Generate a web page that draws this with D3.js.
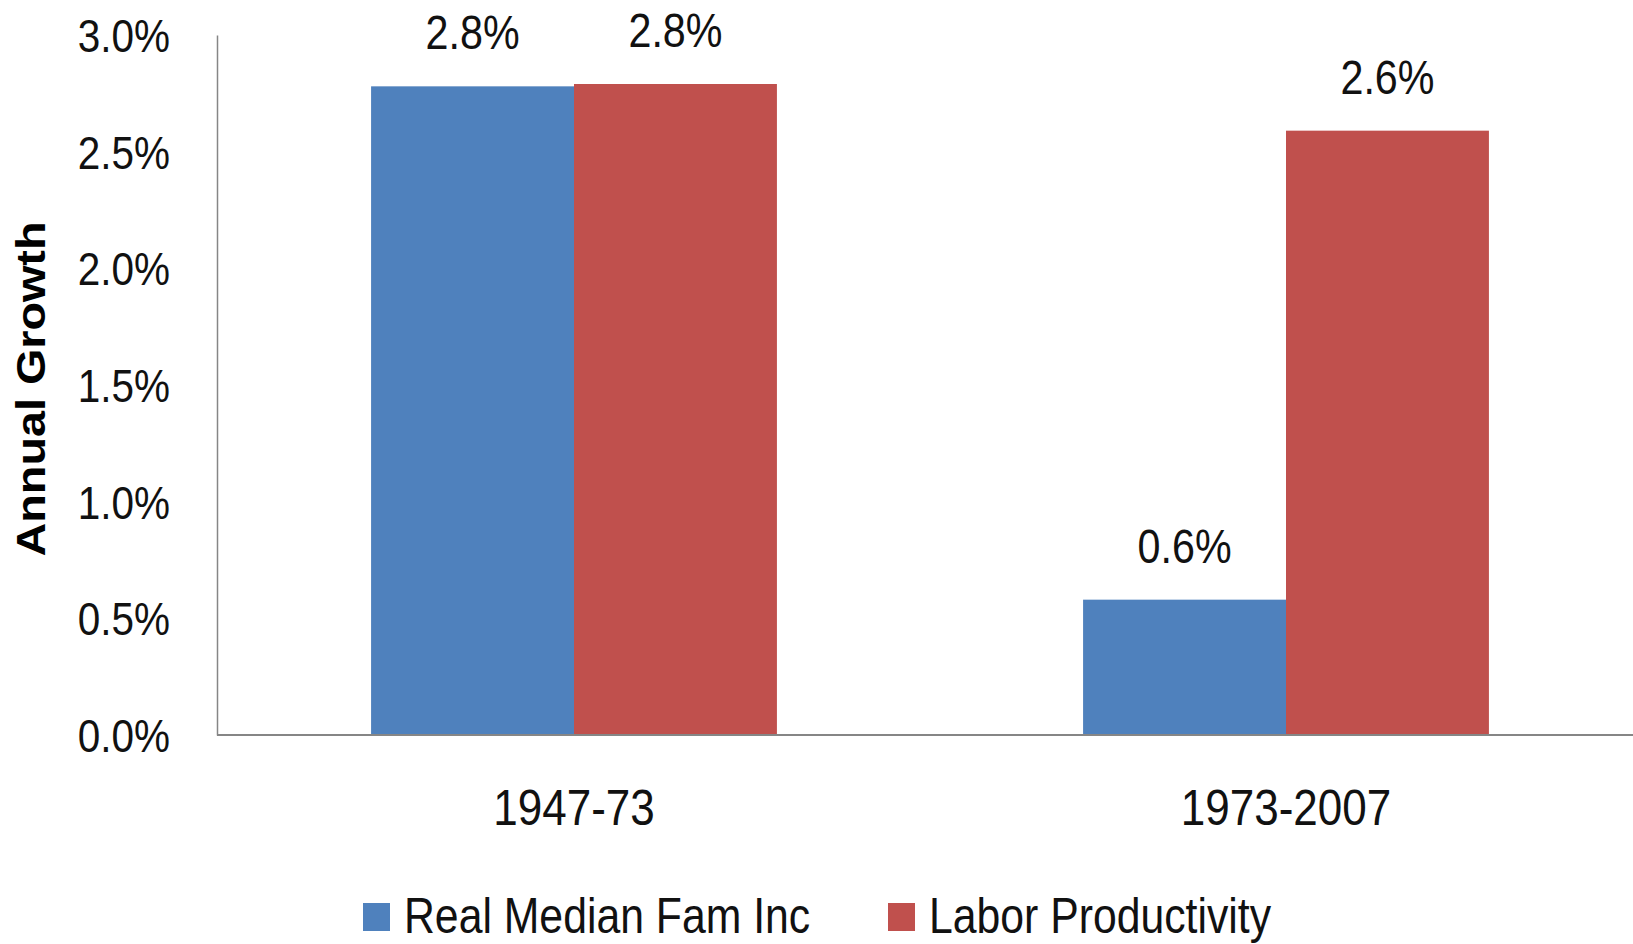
<!DOCTYPE html>
<html lang="en">
<head>
  <title>Annual Growth</title>
  <meta charset="utf-8">
  <script src="https://d3js.org/d3.v7.min.js"></script>
  <style>
  body {
      margin: 0;
      background: #ffffff;
  }
  .tick text, .lbl, .legend text {
      font-family: "Liberation Sans", Arial, sans-serif;
      fill: #111;
  }
  .axis path {
      stroke: #868686;
      stroke-width: 2;
  }
  </style>
</head>
<body>
<script>

var periods = ["1947-73", "1973-2007"];
var seriesNames = ["Real Median Fam Inc", "Labor Productivity"];
var incomeGrowth = [2.78, 0.58];
var productivityGrowth = [2.79, 2.59];
var yTicks = [0, 0.5, 1.0, 1.5, 2.0, 2.5, 3.0];
var colors = ["#4F81BD", "#C0504D"];

var width = 1633,
    height = 944;

var rows = periods.map(function(p, i) {
  return {period: p, values: [incomeGrowth[i], productivityGrowth[i]]};
});

// narrow look of the original font: squeeze text horizontally around its anchor
function squeeze(sel, sx) {
  sel.each(function() {
    var t = d3.select(this);
    var x = +t.attr("x") || 0,
        y = +t.attr("y") || 0;
    t.attr("x", 0).attr("y", 0)
      .attr("transform", "translate(" + x + "," + y + ") scale(" + sx + ",1)");
  });
}

var svg = d3.select("body").append("svg")
    .attr("width", width)
    .attr("height", height);

var y = d3.scaleLinear()
    .domain([0, 3])
    .range([735, 35]);

var x0 = d3.scaleBand()
    .domain(periods)
    .range([218, 1642])
    .paddingInner(0.43)
    .paddingOuter(0.215);

var x1 = d3.scaleBand()
    .domain([0, 1])
    .range([0, x0.bandwidth()]);

// bars
var g = svg.selectAll(".grp")
    .data(rows)
  .enter().append("g")
    .attr("class", "grp")
    .attr("transform", function(d) { return "translate(" + x0(d.period) + ",0)"; });

g.selectAll("rect")
    .data(function(d) { return d.values; })
  .enter().append("rect")
    .attr("x", function(d, i) { return x1(i); })
    .attr("y", function(d) { return y(d); })
    .attr("width", x1.bandwidth())
    .attr("height", function(d) { return y(0) - y(d); })
    .style("fill", function(d, i) { return colors[i]; });

g.selectAll(".lbl")
    .data(function(d) { return d.values; })
  .enter().append("text")
    .attr("class", "lbl")
    .attr("x", function(d, i) { return x1(i) + x1.bandwidth() / 2; })
    .attr("y", function(d) { return y(d) - 37; })
    .attr("text-anchor", "middle")
    .style("font-size", "48px")
    .text(function(d) { return d.toFixed(1) + "%"; })
    .call(squeeze, 0.86);

// axes
var yAxis = svg.append("g")
    .attr("class", "axis")
    .attr("transform", "translate(217,0)")
    .call(d3.axisLeft(y)
      .tickValues(yTicks)
      .tickSize(0)
      .tickSizeOuter(0)
      .tickPadding(47)
      .tickFormat(function(d) { return d.toFixed(1) + "%"; }));

yAxis.select(".domain").style("stroke-width", 1.5);
yAxis.selectAll(".tick text")
    .style("font-size", "46px")
    .attr("dy", "0.36em")
    .call(squeeze, 0.88);

var xAxis = svg.append("g")
    .attr("class", "axis")
    .attr("transform", "translate(0,735)")
    .call(d3.axisBottom(x0).tickSize(0).tickSizeOuter(0).tickPadding(72));

xAxis.select(".domain").attr("d", "M217,0H1642");
xAxis.selectAll(".tick text")
    .style("font-size", "50px")
    .attr("dy", "0.36em")
    .call(squeeze, 0.88);

// axis title
svg.append("text")
    .attr("transform", "translate(45,389) rotate(-90) scale(1.14,1)")
    .attr("text-anchor", "middle")
    .style("font-family", "'Liberation Sans', Arial, sans-serif")
    .style("font-weight", "bold")
    .style("font-size", "41px")
    .text("Annual Growth");

// legend
var legendX = [363, 888];
var legend = svg.selectAll(".legend")
    .data(seriesNames)
  .enter().append("g")
    .attr("class", "legend")
    .attr("transform", function(d, i) { return "translate(" + legendX[i] + ",915)"; });

legend.append("rect")
    .attr("x", 0)
    .attr("y", -12)
    .attr("width", 27)
    .attr("height", 28)
    .style("fill", function(d, i) { return colors[i]; });

legend.append("text")
    .attr("x", 41)
    .attr("dy", "0.36em")
    .style("font-size", "50px")
    .text(function(d) { return d; })
    .call(squeeze, 0.855);

</script>
</body>
</html>
